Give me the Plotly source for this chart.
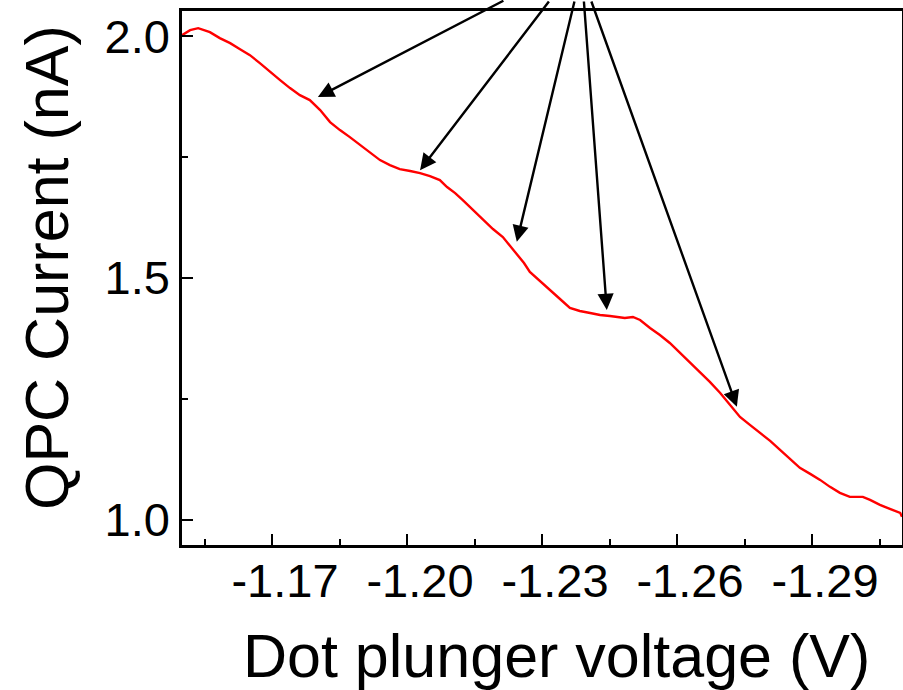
import plotly.graph_objects as go

# Dot plunger voltage (V) and QPC current (nA)
voltage = [-1.1500, -1.1518, -1.1536, -1.1551, -1.1562, -1.1584, -1.1607, -1.1629,
           -1.1651, -1.1673, -1.1696, -1.1718, -1.1740, -1.1762, -1.1784, -1.1807,
           -1.1829, -1.1851, -1.1873, -1.1896, -1.1918, -1.1940, -1.1962, -1.1984,
           -1.2007, -1.2029, -1.2051, -1.2073, -1.2089, -1.2107, -1.2124, -1.2147,
           -1.2169, -1.2191, -1.2213, -1.2229, -1.2244, -1.2260, -1.2273, -1.2296,
           -1.2318, -1.2340, -1.2362, -1.2384, -1.2407, -1.2429, -1.2451, -1.2473,
           -1.2484, -1.2502, -1.2518, -1.2540, -1.2562, -1.2584, -1.2607, -1.2629,
           -1.2651, -1.2673, -1.2696, -1.2718, -1.2740, -1.2762, -1.2784, -1.2807,
           -1.2829, -1.2851, -1.2873, -1.2896, -1.2918, -1.2940, -1.2962, -1.2984,
           -1.3000, -1.3013, -1.3029, -1.3051, -1.3073, -1.3096, -1.3100]
current = [2.0021, 2.0124, 2.0165, 2.0124, 2.0083, 1.9959, 1.9855, 1.9731,
           1.9607, 1.9442, 1.9256, 1.9091, 1.8926, 1.8781, 1.8678, 1.8471,
           1.8223, 1.8058, 1.7913, 1.7748, 1.7583, 1.7438, 1.7335, 1.7252,
           1.7211, 1.7169, 1.7107, 1.7025, 1.6880, 1.6756, 1.6612, 1.6405,
           1.6198, 1.6012, 1.5847, 1.5661, 1.5475, 1.5310, 1.5124, 1.4938,
           1.4752, 1.4566, 1.4380, 1.4318, 1.4277, 1.4236, 1.4215, 1.4194,
           1.4174, 1.4194, 1.4132, 1.3967, 1.3822, 1.3657, 1.3450, 1.3244,
           1.3058, 1.2851, 1.2624, 1.2376, 1.2128, 1.1963, 1.1798, 1.1632,
           1.1446, 1.1260, 1.1074, 1.0950, 1.0826, 1.0682, 1.0558, 1.0475,
           1.0475, 1.0475, 1.0413, 1.0310, 1.0227, 1.0145, 1.0062]

# Arrow tips (data coordinates) and tail offsets (pixels)
arrow_x = [-1.1802, -1.2029, -1.2244, -1.2444, -1.2733]
arrow_y = [1.874, 1.723, 1.575, 1.434, 1.234]
arrow_ax = [187, 130, 58, -23, -146]
arrow_ay = [-117, -190, -262, -330, -427]

x_tickvals = [-1.17, -1.20, -1.23, -1.26, -1.29]
x_ticktext = ["-1.17", "-1.20", "-1.23", "-1.26", "-1.29"]
y_tickvals = [1.0, 1.5, 2.0]
y_ticktext = ["1.0", "1.5", "2.0"]
x_title = "Dot plunger voltage (V)"
y_title = "QPC Current (nA)"

FONT = "Liberation Sans, Arial, sans-serif"

fig = go.Figure()
fig.add_trace(go.Scatter(x=voltage, y=current, mode="lines",
                         line=dict(color="#ff0000", width=2.4), showlegend=False))

for xa, ya, dx, dy in zip(arrow_x, arrow_y, arrow_ax, arrow_ay):
    fig.add_annotation(x=xa, y=ya, xref="x", yref="y", ax=dx, ay=dy,
                       showarrow=True, arrowhead=2, arrowsize=1.35, arrowwidth=2.4,
                       arrowcolor="black", text="")

# axis titles as annotations for exact placement
fig.add_annotation(text=x_title, xref="paper", yref="paper", x=0.5208, y=-0.2079,
                   xanchor="center", yanchor="middle", showarrow=False,
                   font=dict(size=61, family=FONT, color="black"))
fig.add_annotation(text=y_title, xref="paper", yref="paper", x=-0.1875, y=0.5187,
                   xanchor="center", yanchor="middle", showarrow=False, textangle=-90,
                   font=dict(size=61, family=FONT, color="black"))

fig.update_layout(
    width=903, height=690,
    margin=dict(l=182, r=1, t=11, b=145),
    paper_bgcolor="white", plot_bgcolor="white",
    font=dict(family=FONT, color="black"),
)
fig.update_xaxes(
    range=[-1.15, -1.31], showgrid=False, zeroline=False, automargin=False,
    showline=True, mirror=True, linecolor="black", linewidth=2.5,
    ticks="inside", ticklen=11, tickwidth=2, tickcolor="black",
    tickvals=x_tickvals, ticktext=x_ticktext, ticklabelstandoff=-7,
    ticklabelshift=-13,
    tickfont=dict(size=47, family=FONT),
    minor=dict(ticks="inside", ticklen=6, tickwidth=2, tickcolor="black",
               tick0=-1.155, dtick=0.015, showgrid=False),
)
fig.update_yaxes(
    range=[0.948, 2.052], showgrid=False, zeroline=False, automargin=False,
    showline=True, mirror=True, linecolor="black", linewidth=2.5,
    ticks="inside", ticklen=11, tickwidth=2, tickcolor="black",
    tickvals=y_tickvals, ticktext=y_ticktext,
    tickfont=dict(size=47, family=FONT),
    minor=dict(ticks="inside", ticklen=6, tickwidth=2, tickcolor="black",
               tick0=1.0, dtick=0.25, showgrid=False),
)

fig.write_html("out.html", config={"displayModeBar": False},
               post_script="document.body.style.margin='0';document.body.style.overflow='hidden';")
